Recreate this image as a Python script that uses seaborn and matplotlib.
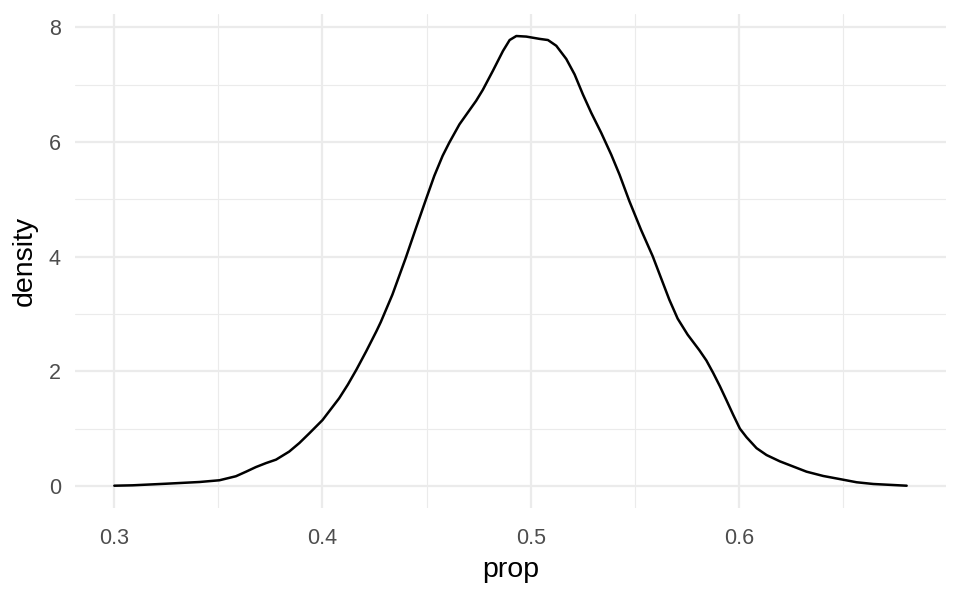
import matplotlib
matplotlib.use("Agg")
import matplotlib.pyplot as plt
import seaborn as sns
import numpy as np
import pandas as pd

prop = [0.300, 0.3088, 0.325, 0.341, 0.3505, 0.3584, 0.3633, 0.368, 0.3729, 0.3777,
        0.384, 0.3889, 0.3937, 0.400, 0.408, 0.4122, 0.4163, 0.4210, 0.4259, 0.4280,
        0.4336, 0.4400, 0.4449, 0.4497, 0.4537, 0.4577, 0.4609, 0.4658, 0.4738, 0.4770,
        0.4818, 0.4867, 0.4899, 0.4931, 0.4979, 0.5043, 0.5083, 0.5123, 0.5171, 0.5211,
        0.5251, 0.5291, 0.5339, 0.5387, 0.5427, 0.5474, 0.5530, 0.5586, 0.5626, 0.5666,
        0.5706, 0.5754, 0.5810, 0.5844, 0.5877, 0.5909, 0.594, 0.5973, 0.6005, 0.6037,
        0.6085, 0.6133, 0.6197, 0.6261, 0.6325, 0.6405, 0.6486, 0.6566, 0.6646, 0.6806]
density = [0.005, 0.012, 0.04, 0.07, 0.10, 0.17, 0.25, 0.33, 0.40, 0.46,
           0.60, 0.75, 0.92, 1.15, 1.53, 1.77, 2.03, 2.35, 2.70, 2.86,
           3.34, 3.98, 4.50, 5.00, 5.41, 5.76, 5.99, 6.31, 6.72, 6.91,
           7.24, 7.59, 7.78, 7.85, 7.84, 7.80, 7.78, 7.68, 7.45, 7.18,
           6.83, 6.51, 6.16, 5.78, 5.43, 4.97, 4.47, 4.01, 3.63, 3.25,
           2.92, 2.64, 2.37, 2.19, 1.97, 1.74, 1.50, 1.24, 1.00, 0.85,
           0.66, 0.54, 0.43, 0.34, 0.25, 0.175, 0.12, 0.065, 0.035, 0.005]
x_ticks = [0.3, 0.4, 0.5, 0.6]
x_tick_labels = ["0.3", "0.4", "0.5", "0.6"]
y_ticks = [0, 2, 4, 6, 8]
x_minor = [0.35, 0.45, 0.55, 0.65]
y_minor = [1, 3, 5, 7]

df = pd.DataFrame({"prop": prop, "density": density})

sns.set_theme(style="white")
plt.rcParams["font.family"] = ["Liberation Sans", "DejaVu Sans"]

fig = plt.figure(figsize=(9.6, 5.93), dpi=100)
ax = fig.add_axes([0.0778, 0.1425, 0.9857 - 0.0778, 0.9772 - 0.1425])

sns.lineplot(data=df, x="prop", y="density", color="black", linewidth=1.8,
             sort=False, ax=ax, zorder=3)
for ln in ax.get_lines():
    ln.set_solid_joinstyle("round")
    ln.set_solid_capstyle("round")

xr = max(prop) - min(prop)
yr = max(density) - 0
ax.set_xlim(min(prop) - 0.05 * xr, max(prop) + 0.05 * xr)
ax.set_ylim(0 - 0.05 * yr, max(density) + 0.05 * yr)

ax.set_xticks(x_ticks)
ax.set_xticklabels(x_tick_labels)
ax.set_yticks(y_ticks)
ax.set_xticks(x_minor, minor=True)
ax.set_yticks(y_minor, minor=True)

ax.grid(which="major", color="#EBEBEB", linewidth=1.6, zorder=0)
ax.grid(which="minor", color="#EBEBEB", linewidth=0.8, zorder=0)
ax.set_axisbelow(True)
for s in ax.spines.values():
    s.set_visible(False)

ax.tick_params(axis="both", which="both", length=0, labelsize=15.5, colors="#4D4D4D")
ax.tick_params(axis="x", pad=14)
ax.tick_params(axis="y", pad=10)
ax.set_xlabel("prop", fontsize=20.5, color="black", labelpad=6)
ax.set_ylabel("density", fontsize=20.5, color="black", labelpad=8)

fig.savefig("out.png", dpi=100, facecolor="white")
